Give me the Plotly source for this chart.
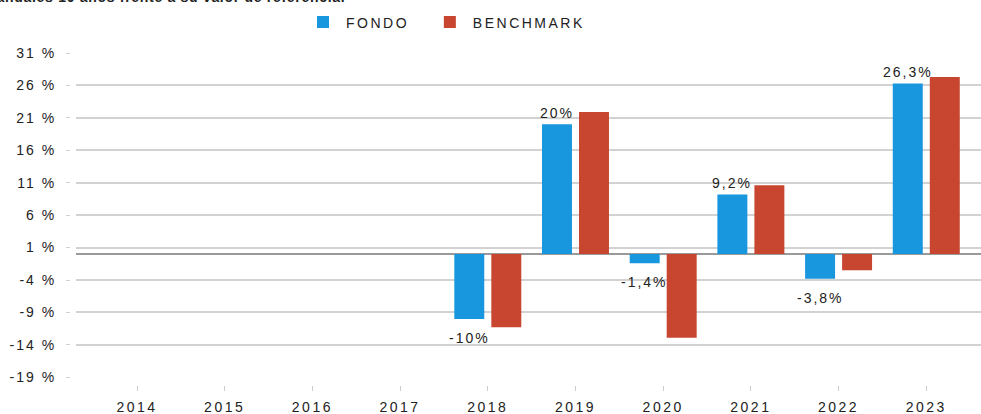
import plotly.graph_objects as go

years = ["2014", "2015", "2016", "2017", "2018", "2019", "2020", "2021", "2022", "2023"]
fondo = [None, None, None, None, -10.0, 20.0, -1.4, 9.2, -3.8, 26.3]
benchmark = [None, None, None, None, -11.3, 21.9, -12.9, 10.6, -2.5, 27.3]
fondo_labels = ["", "", "", "", "-10%", "20%", "-1,4%", "9,2%", "-3,8%", "26,3%"]
y_ticks = [31, 26, 21, 16, 11, 6, 1, -4, -9, -14, -19]
title_text = "Rendimientos anuales 10 años frente a su valor de referencia."

BLUE = "#1897DE"
RED = "#C8462F"
TXT = "#222222"
FONT = "Liberation Sans, Arial, sans-serif"

L, R, T, B = 70, 0, 53, 29
PW, PH = 981 - L - R, 414 - T - B
NB = "\u00a0"


def sp(s, ls=2.5):
    return f"<span style='letter-spacing:{ls}px'>{s}</span>"


fig = go.Figure()
fig.add_trace(go.Bar(x=years, y=fondo, name=sp("FONDO" + NB * 2),
                     marker=dict(color=BLUE, line=dict(width=0))))
fig.add_trace(go.Bar(x=years, y=benchmark, name=sp("BENCHMARK"),
                     marker=dict(color=RED, line=dict(width=0))))

for i, (v, lab) in enumerate(zip(fondo, fondo_labels)):
    if v is None:
        continue
    fig.add_annotation(
        x=i, y=v, xref="x", yref="y", text=sp(lab, 2), showarrow=False,
        xshift=-18.5, yshift=(1 if v >= 0 else -9),
        yanchor=("bottom" if v >= 0 else "top"),
        font=dict(family=FONT, size=14, color=TXT),
    )

# partially cut-off title at the very top
fig.add_annotation(
    xref="paper", yref="paper", x=(347 - L) / PW, y=(414 - B - 7) / PH,
    text=sp("<b>" + title_text + "</b>", 0.7), showarrow=False,
    xanchor="right", yanchor="bottom", font=dict(family=FONT, size=14, color=TXT),
)

fig.update_layout(
    width=981, height=414,
    margin=dict(l=L, r=R, t=T, b=B, pad=0, autoexpand=False),
    paper_bgcolor="white", plot_bgcolor="white",
    barmode="group", bargap=0.156, bargroupgap=0.19,
    font=dict(family=FONT, size=14, color=TXT),
    showlegend=True,
    legend=dict(
        orientation="h", x=(300 - L) / PW, xanchor="left",
        y=(414 - B - 22.5) / PH, yanchor="middle",
        itemwidth=36,
        font=dict(family=FONT, size=14, color=TXT),
        bgcolor="rgba(0,0,0,0)", itemclick=False,
    ),
    xaxis=dict(
        type="category", domain=[6 / PW, 1], range=[-0.6956, 9.624],
        anchor="free", position=0,
        showgrid=False, zeroline=False, showline=False,
        ticks="outside", ticklen=5, tickcolor="#cccccc", tickwidth=1,
        tickvals=years, ticktext=[sp(y, 2.5) for y in years],
        ticklabelstandoff=4,
        tickfont=dict(family=FONT, size=14, color=TXT),
    ),
    yaxis=dict(
        domain=[7.7 / PH, 1], range=[-19, 31],
        anchor="free", position=0,
        showgrid=True, gridcolor="#d2d2d2", gridwidth=1.5,
        zeroline=True, zerolinecolor="#9a9a9a", zerolinewidth=2,
        showline=False,
        ticks="outside", ticklen=4, tickcolor="#d0d0d0",
        tickvals=y_ticks, ticktext=[sp(f"{t} %", 2) for t in y_ticks],
        ticklabelstandoff=7,
        tickfont=dict(family=FONT, size=14, color=TXT),
    ),
)

fig.write_html(
    "out.html",
    config={"displayModeBar": False},
    post_script="document.body.style.margin='0';document.body.style.overflow='hidden';",
)
